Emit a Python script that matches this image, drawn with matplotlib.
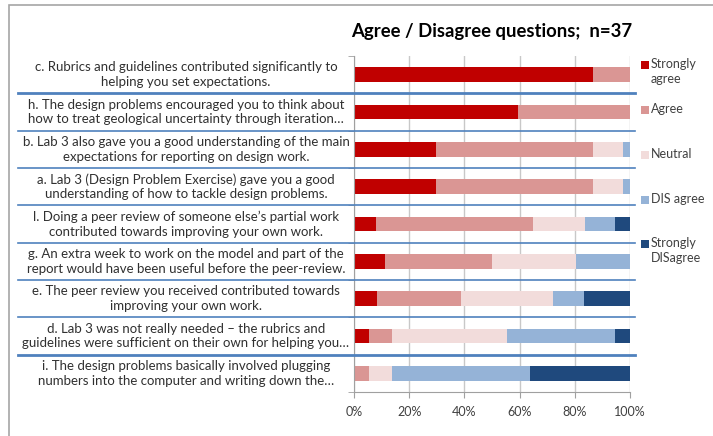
import numpy as np
import matplotlib
matplotlib.use('Agg')
import matplotlib.pyplot as plt
from matplotlib.patches import Rectangle
from matplotlib.lines import Line2D
from matplotlib import transforms


questions = [
    "c. Rubrics and guidelines contributed significantly to\nhelping you set expectations.",
    "h. The design problems encouraged you to think about\nhow to treat geological uncertainty through iteration\u2026",
    "b. Lab 3 also gave you a good understanding of the main\nexpectations for reporting on design work.",
    "a. Lab 3 (Design Problem Exercise) gave you a good\nunderstanding of how to tackle design problems.",
    "l. Doing a peer review of someone else\u2019s partial work\ncontributed towards improving your own work.",
    "g. An extra week to work on the model and part of the\nreport would have been useful before the peer-review.",
    "e. The peer review you received contributed towards\nimproving your own work.",
    "d. Lab 3 was not really needed \u2013 the rubrics and\nguidelines were sufficient on their own for helping you\u2026",
    "i. The design problems basically involved plugging\nnumbers into the computer and writing down the\u2026",
]

strongly_agree = [86.5, 59.5, 29.7, 29.7, 8.1, 11.1, 8.3, 5.6, 0.0]
agree = [13.5, 40.5, 56.8, 56.8, 56.8, 38.9, 30.6, 8.3, 5.6]
neutral = [0.0, 0.0, 10.8, 10.8, 18.9, 30.6, 33.3, 41.7, 8.3]
dis_agree = [0.0, 0.0, 2.7, 2.7, 10.8, 19.4, 11.1, 38.9, 50.0]
strongly_disagree = [0.0, 0.0, 0.0, 0.0, 5.4, 0.0, 16.7, 5.6, 36.1]

series_names = ["Strongly\nagree", "Agree", "Neutral", "DIS agree", "Strongly\nDISagree"]
colors = ['#C00000', '#DA9694', '#F2DCDB', '#95B3D7', '#1F497D']

title = "Agree / Disagree questions;  n=37"
xticks = [0, 20, 40, 60, 80, 100]

W, H = 713, 436
plt.rcParams['font.family'] = ['Lato', 'DejaVu Sans']

fig = plt.figure(figsize=(W / 100, H / 100), dpi=100)
ax = fig.add_axes([354 / W, 1 - 392 / H, 276 / W, 336 / H])

y = np.arange(len(questions))
left = np.zeros(len(questions))
for vals, name, col in zip([strongly_agree, agree, neutral, dis_agree, strongly_disagree],
                           series_names, colors):
    ax.barh(y, vals, left=left, height=0.4, color=col, label=name)
    left += np.array(vals)

ax.set_xlim(0, 100)
ax.set_ylim(len(questions) - 0.5, -0.5)
ax.set_xticks(xticks)
ax.set_xticklabels([f'{t}%' for t in xticks], fontsize=9, color='#404040')
ax.set_yticks([])
ax.set_yticks(np.arange(-0.5, len(questions)), minor=True)
ax.tick_params(axis='y', which='minor', length=4, color='#a0a0a0')
ax.tick_params(axis='x', length=4, color='#a0a0a0', pad=6)
ax.grid(axis='x', color='#c8c8c8', linewidth=1)
ax.set_axisbelow(True)
for s in ['top', 'right']:
    ax.spines[s].set_visible(False)
for s in ['left', 'bottom']:
    ax.spines[s].set_color('#a0a0a0')

# question labels and blue separators
trans = transforms.blended_transform_factory(fig.transFigure, ax.transData)
for i, q in enumerate(questions):
    fig.text(186 / W, i, q, transform=trans, ha='center', va='center',
             fontsize=9.5, color='#303030', linespacing=1.28)
for k in range(len(questions) - 1):
    lw = 2.0 if k in (0, 7) else 1.2
    fig.lines.append(Line2D([18 / W, 635 / W], [k + 0.5, k + 0.5], transform=trans,
                            color='#4F81BD', linewidth=lw))

# legend
leg_y = [65, 110, 155, 200, 244]
for name, col, ly in zip(series_names, colors, leg_y):
    fig.patches.append(Rectangle((641 / W, 1 - (ly + 4) / H), 8 / W, 8 / H,
                                 transform=fig.transFigure, facecolor=col, edgecolor='none'))
    fig.text(651 / W, 1 - (ly - 7) / H, name, ha='left', va='top', fontsize=9,
             color='#404040', linespacing=1.3)

fig.text(492 / W, 1 - 32 / H, title, ha='center', va='center', fontsize=13.3, fontweight='bold')

# outer frame
fig.patches.append(Rectangle((9 / W, -0.1), 1.2, 1.1 - 5 / H, transform=fig.transFigure,
                             facecolor='none', edgecolor='#a6a6a6', linewidth=1.2))

fig.savefig('out.png', dpi=100)
